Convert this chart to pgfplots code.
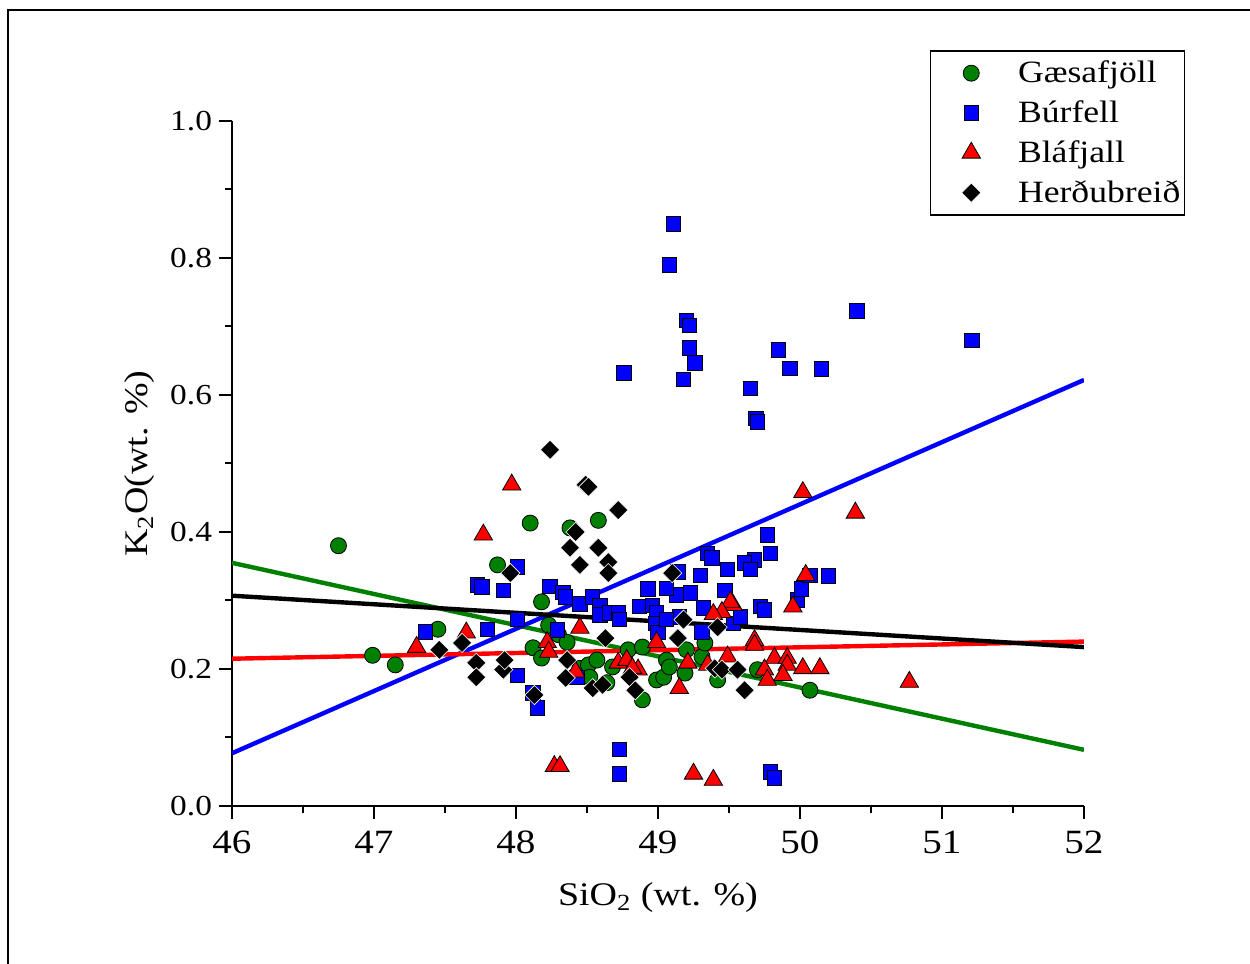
\documentclass[border=0pt]{standalone}
\usepackage{fontspec}
\setmainfont[FakeStretch=1.15]{Liberation Serif}
\usepackage{pgfplots}
\pgfplotsset{compat=1.18}
\definecolor{gcol}{RGB}{0,128,0}
\definecolor{bcol}{RGB}{0,0,255}
\definecolor{rcol}{RGB}{255,0,0}
\begin{document}
\begin{tikzpicture}
\useasboundingbox (-116pt,-79pt) rectangle (509pt,403pt);
\draw[line width=1pt] (-112pt,-80pt) -- (-112pt,398pt) -- (510pt,398pt);
\begin{axis}[
  at={(0pt,0pt)}, anchor=south west,
  scale only axis, width=426pt, height=342.5pt,
  xmin=46, xmax=52, ymin=0, ymax=1,
  axis x line=bottom, axis y line=left,
  axis line style={-, line width=1pt},
  tick align=outside,
  major tick length=6.5pt, minor tick length=3.5pt,
  every tick/.style={black, line width=1pt},
  xtick={46,47,48,49,50,51,52},
  ytick={0,0.2,0.4,0.6,0.8,1.0},
  minor x tick num=1, minor y tick num=1,
  /pgf/number format/assume math mode=true,
  xticklabel style={font=\fontsize{17}{19}\selectfont, yshift=-2.5pt},
  yticklabel style={font=\fontsize{14.5}{17}\selectfont, /pgf/number format/fixed, /pgf/number format/fixed zerofill, /pgf/number format/precision=1},
  xlabel={SiO\textsubscript{2} (wt. \%)},
  ylabel={K\textsubscript{2}O(wt. \%)},
  xlabel style={at={(axis description cs:0.5,-0.133)}, anchor=center, font=\fontsize{16.5}{19}\selectfont},
  ylabel style={at={(axis description cs:-0.108,0.5)}, anchor=center, font=\fontsize{16.5}{19}\selectfont},
  legend style={at={(0.819,1.1036)}, anchor=north west, draw=black, line width=0.75pt,
    font=\fontsize{15.5}{17}\selectfont, row sep=3.5pt, inner xsep=0pt, inner ysep=3pt,
    nodes={inner xsep=2pt}},
  legend image code/.code={\path (0pt,0pt) (41pt,0pt); \draw[mark repeat=2,mark phase=2,#1] plot coordinates {(0pt,0pt) (20pt,0pt) (40pt,0pt)};},
  legend cell align=left,
]
\addplot[only marks, mark=*, mark size=4pt, mark options={fill=gcol, draw=black, line width=0.4pt}] coordinates {
(46.75,0.380) (46.99,0.220) (47.15,0.206) (47.45,0.258) (47.87,0.352) (48.10,0.413)
(48.18,0.298) (48.38,0.406) (48.58,0.417) (48.12,0.231) (48.18,0.216) (48.23,0.264)
(48.30,0.250) (48.36,0.239) (48.45,0.201) (48.51,0.206) (48.57,0.213) (48.52,0.188)
(48.64,0.180) (48.68,0.203) (48.79,0.228) (48.89,0.232) (48.89,0.155) (48.99,0.184)
(49.04,0.188) (49.06,0.213) (49.08,0.203) (49.19,0.194) (49.20,0.228) (49.31,0.218)
(49.33,0.238) (49.42,0.184) (49.70,0.199) (50.07,0.169)
};
\addlegendentry{Gæsafjöll}
\addplot[only marks, mark=square*, mark size=3.6pt, mark options={fill=bcol, draw=black, line width=0.4pt}] coordinates {
(49.11,0.850) (49.08,0.790) (49.20,0.709) (49.22,0.702) (49.22,0.669) (49.26,0.647)
(49.18,0.623) (48.76,0.632) (49.65,0.610) (50.40,0.723) (51.21,0.680) (49.85,0.666)
(49.93,0.639) (50.15,0.638) (49.69,0.566) (49.70,0.561) (49.77,0.396) (49.79,0.369)
(49.68,0.359) (49.61,0.355) (49.65,0.345) (49.35,0.369) (49.38,0.362) (49.49,0.345)
(49.30,0.337) (49.14,0.342) (49.23,0.311) (49.13,0.308) (49.06,0.318) (48.93,0.317)
(49.47,0.315) (49.53,0.267) (49.58,0.276) (49.32,0.289) (49.31,0.254) (49.72,0.291)
(49.75,0.286) (49.98,0.301) (50.01,0.317) (50.07,0.337) (50.20,0.336) (47.73,0.323)
(47.76,0.320) (47.91,0.315) (48.01,0.349) (48.24,0.321) (48.33,0.312) (48.35,0.305)
(47.80,0.258) (47.36,0.254) (48.01,0.272) (48.01,0.191) (48.12,0.165) (48.15,0.143)
(48.73,0.083) (48.73,0.047) (49.79,0.050) (49.82,0.041) (48.45,0.295) (48.54,0.305)
(48.59,0.293) (48.59,0.279) (48.66,0.282) (48.72,0.283) (48.73,0.272) (48.87,0.291)
(48.96,0.293) (48.99,0.283) (48.98,0.267) (49.00,0.253) (49.15,0.276) (49.06,0.272)
(48.29,0.257) (48.43,0.188)
};
\addlegendentry{Búrfell}
\addplot[only marks, mark=triangle*, mark size=5.3pt, mark options={fill=rcol, draw=black, line width=0.4pt}] coordinates {
(47.97,0.469) (47.77,0.396) (50.02,0.458) (50.39,0.428) (50.04,0.337) (49.95,0.291)
(49.53,0.293) (49.51,0.298) (49.45,0.283) (49.39,0.280) (49.68,0.242) (49.68,0.235)
(49.82,0.216) (49.91,0.216) (49.91,0.206) (49.75,0.199) (49.77,0.184) (49.88,0.191)
(50.02,0.201) (50.14,0.201) (50.77,0.181) (49.49,0.218) (49.35,0.206) (49.21,0.209)
(49.15,0.172) (48.99,0.239) (48.72,0.209) (48.78,0.213) (48.86,0.199) (48.82,0.201)
(48.45,0.260) (48.22,0.239) (48.23,0.225) (48.42,0.196) (47.30,0.232) (47.65,0.253)
(48.27,0.058) (48.31,0.058) (49.25,0.047) (49.39,0.038)
};
\addlegendentry{Bláfjall}
\addplot[only marks, mark=square*, mark size=3.4pt, mark options={rotate=45, fill=black, draw=white, line width=0.3pt}] coordinates {
(48.24,0.520) (48.49,0.469) (48.51,0.466) (48.72,0.432) (48.42,0.400) (48.38,0.377)
(48.58,0.377) (48.65,0.356) (48.45,0.352) (48.65,0.340) (49.10,0.340) (47.96,0.340)
(48.63,0.245) (49.14,0.245) (49.18,0.272) (49.42,0.261) (48.36,0.213) (48.35,0.187)
(48.54,0.172) (48.61,0.177) (48.80,0.188) (48.84,0.169) (49.40,0.201) (49.45,0.199)
(49.56,0.199) (49.61,0.169) (47.91,0.199) (47.92,0.213) (48.13,0.162) (47.46,0.228)
(47.62,0.238) (47.72,0.209) (47.72,0.188)
};
\addlegendentry{Herðubreið}
\addplot[forget plot, no marks, gcol, line width=2.2pt] coordinates {(46,0.355) (52,0.082)};
\addplot[forget plot, no marks, bcol, line width=2.2pt] coordinates {(46,0.077) (52,0.622)};
\addplot[forget plot, no marks, rcol, line width=2.2pt] coordinates {(46,0.215) (52,0.240)};
\addplot[forget plot, no marks, black, line width=2.2pt] coordinates {(46,0.307) (52,0.232)};
\end{axis}
\end{tikzpicture}
\end{document}
